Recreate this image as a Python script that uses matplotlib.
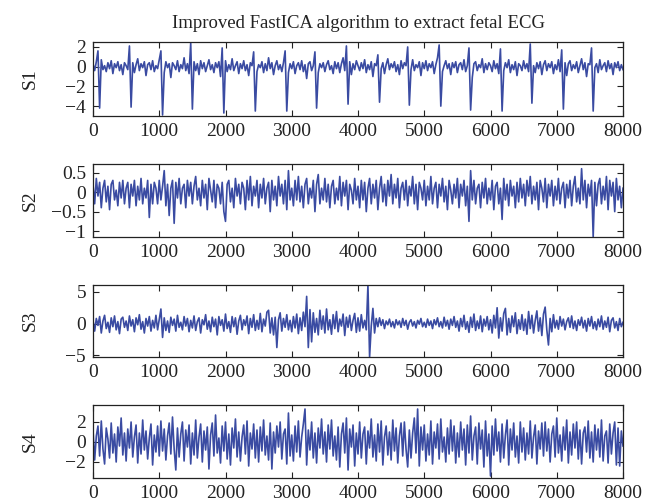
import numpy as np
import matplotlib
matplotlib.use("Agg")
import matplotlib.pyplot as plt

plt.rcParams['font.family'] = ['Liberation Serif', 'DejaVu Serif']

# sample step of the hand-read values (samples)
step = 25
title = 'Improved FastICA algorithm to extract fetal ECG'
names = ['S1', 'S2', 'S3', 'S4']

# S1: baseline noise, spikes added below
s1_base = [
    0.3, -0.4, 0.5, -0.6, 0.2, 0.7, -0.3, 0.1, -0.5, 0.4, -0.2, 0.6, -0.7, 0.3, -0.1, 0.5, -0.4, 0.2, -0.8, 0.4,
    0.1, -0.3, 0.6, -0.2, 0.4, -0.6, 0.2, 0.8, -0.4, 0.3, -0.1, 0.5, -0.9, 0.2, 0.4, -0.3, 0.6, -0.5, 0.1, -0.2,
    0.7, -0.4, 0.2, -0.6, 0.5, -0.1, 0.3, -1.1, 0.4, 0.1, -0.3, 0.6, -0.5, 0.2, -0.2, 0.9, -0.4, 0.3, -0.7, 0.2,
    -0.1, 0.5, -0.4, 0.3, -0.8, 0.6, -0.2, 0.4, -0.5, 0.1, 0.7, -0.3, 0.2, -0.6, 0.4, -0.1, 0.5, -1.0, 0.3, -0.2,
    0.6, -0.5, 0.2, -0.3, 0.8, -0.4, 0.1, 0.5, -0.7, 0.3, -0.2, 0.6, -0.4, 0.2, -0.9, 0.4, 0.1, -0.3, 0.7, -0.5,
    0.2, -0.1, 0.5, -0.6, 0.3, -0.4, 0.9, -0.2, 0.4, -0.8, 0.1, 0.6, -0.3, 0.2, -0.5, 0.4, -0.1, 0.7, -0.6, 0.3,
    -0.2, 0.5, -0.7, 0.1, 0.4, -0.3, 0.6, -0.5, 0.2, -1.2, 0.3, 0.5, -0.4, 0.1, -0.2, 0.8, -0.6, 0.3, -0.1, 0.4,
    -0.5, 0.2, 0.6, -0.3, 0.1, -0.7, 0.5, -0.2, 0.4, -0.6, 0.3, 0.9, -0.4, 0.2, -0.1, 0.5, -0.8, 0.3, -0.3, 0.6,
    0.1, -0.4, 0.4, -0.2, 0.7, -0.6, 0.2, -0.3, 0.5, -1.0, 0.3, 0.1, -0.5, 0.6, -0.2, 0.4, -0.7, 0.2, 0.8, -0.3,
    0.3, -0.1, 0.5, -0.5, 0.2, -0.8, 0.6, -0.2, 0.4, 0.1, -0.6, 0.3, -0.3, 0.7, -0.4, 0.2, -0.1, 0.5, -0.9, 0.4,
    -0.2, 0.6, -0.4, 0.3, -0.1, 0.5, -0.7, 0.2, 0.9, -0.3, 0.4, -0.5, 0.1, 0.6, -0.2, 0.3, -0.8, 0.4, -0.1, 0.5,
    -0.6, 0.2, 0.4, -0.3, 0.7, -0.5, 0.1, -0.2, 0.6, -1.1, 0.3, 0.5, -0.4, 0.2, -0.1, 0.8, -0.6, 0.3, -0.3, 0.4,
    0.1, -0.5, 0.6, -0.2, 0.3, -0.7, 0.5, 0.2, -0.4, 0.4, -0.1, 0.7, -0.6, 0.2, -0.3, 0.5, -0.9, 0.3, 0.1, -0.4,
    0.6, -0.2, 0.3, -0.5, 0.8, -0.3, 0.1, -0.6, 0.4, -0.2, 0.5, -0.8, 0.2, 0.6, -0.4, 0.3, -0.1, 0.5, -0.7, 0.2,
    -0.3, 0.7, -0.5, 0.2, -0.1, 0.4, -0.9, 0.3, 0.6, -0.4, 0.2, -0.2, 0.5, -0.6, 0.1, 0.8, -0.3, 0.4, -1.0, 0.3,
    0.2, -0.4, 0.5, -0.1, 0.3, -0.6, 0.7, -0.3, 0.1, 0.4, -0.5, 0.6, -0.2, 0.3, -0.8, 0.4, -0.1, 0.5, -0.4, 0.2,
    -0.3]

# S1 spikes (sample position, positive tip, negative tip)
spike_pos = [100, 575, 1050, 1500, 1975, 2450, 2925, 3375, 3850, 4325, 4775, 5250, 5700, 6175, 6625, 7100, 7550]
spike_up = [1.6, 2.1, 1.6, 2.4, 1.9, 1.5, 1.6, 1.5, 2.1, 1.2, 2.0, 2.2, 1.9, 1.8, 2.3, 1.7, 1.9]
spike_down = [-4.2, -4.1, -4.9, -4.3, -4.7, -4.5, -4.5, -4.2, -3.8, -3.6, -3.9, -4.0, -4.4, -4.5, -3.7, -4.3, -4.5]

s2 = [
    0.2, -0.3, 0.35, -0.1, 0.25, -0.4, 0.1, 0.3, -0.25, 0.15, -0.45, 0.2, 0.3, -0.2, 0.05, -0.35, 0.25, -0.15, 0.3, -0.3,
    0.1, 0.25, -0.4, 0.2, -0.1, 0.3, -0.35, 0.15, -0.2, 0.35, -0.3, 0.1, -0.15, 0.3, -0.65, 0.2, -0.3, 0.25, 0.1, -0.3,
    0.3, -0.2, 0.15, 0.55, -0.35, 0.2, -0.6, 0.1, 0.3, -0.8, 0.25, -0.15, 0.35, -0.3, 0.1, 0.2, -0.4, 0.3, -0.1, 0.25,
    -0.3, 0.15, 0.4, -0.2, 0.1, -0.35, 0.3, -0.15, 0.2, -0.45, 0.35, 0.05, -0.25, 0.3, -0.4, 0.2, 0.1, -0.3, 0.25, -0.5,
    -0.75, 0.2, 0.3, -0.25, 0.1, -0.4, 0.35, -0.1, 0.2, -0.3, 0.25, 0.1, -0.45, 0.3, -0.2, 0.4, -0.35, 0.15, -0.1, 0.3,
    -0.4, 0.2, -0.15, 0.35, -0.3, 0.1, 0.25, -0.5, 0.3, -0.2, 0.15, -0.35, 0.4, -0.1, 0.2, -0.3, 0.3, -0.45, 0.55, -0.2,
    0.1, -0.35, 0.3, -0.2, 0.4, -0.25, 0.15, -0.4, 0.2, 0.35, -0.3, 0.1, -0.15, 0.3, -0.5, 0.2, 0.45, -0.3, 0.1, -0.2,
    0.35, -0.25, 0.2, -0.4, 0.15, 0.3, -0.3, 0.1, -0.2, 0.4, -0.35, 0.25, -0.1, 0.3, -0.45, 0.2, 0.05, -0.3, 0.35, -0.2,
    0.15, -0.4, 0.3, -0.2, 0.25, -0.5, 0.1, 0.35, -0.3, 0.2, -0.15, 0.3, -0.45, 0.1, 0.4, -0.25, 0.2, -0.35, 0.3, -0.1,
    0.45, -0.3, 0.2, -0.15, 0.35, -0.4, 0.1, 0.25, -0.2, 0.3, -0.35, 0.15, -0.1, 0.4, -0.3, 0.2, -0.45, 0.25, 0.1, -0.2,
    0.3, -0.35, 0.15, -0.2, 0.4, -0.3, 0.1, 0.25, -0.4, 0.2, -0.1, 0.35, -0.25, 0.15, -0.45, 0.3, 0.05, -0.3, 0.2, -0.15,
    0.35, -0.4, 0.2, -0.1, 0.3, -0.35, 0.15, -0.75, 0.55, -0.2, 0.3, -0.3, 0.1, 0.2, -0.4, 0.25, -0.15, 0.35, -0.3, 0.1,
    -0.2, 0.3, -0.45, 0.15, 0.25, -0.3, 0.1, -0.7, 0.35, -0.2, 0.2, -0.35, 0.3, -0.1, 0.15, -0.4, 0.25, -0.25, 0.35, -0.15,
    0.2, -0.35, 0.3, -0.1, 0.4, -0.3, 0.15, -0.2, 0.25, -0.45, 0.3, 0.1, -0.25, 0.35, -0.4, 0.2, -0.1, 0.3, -0.35, 0.15,
    -0.2, 0.35, -0.3, 0.1, 0.25, -0.4, 0.2, -0.15, 0.3, -0.35, 0.15, 0.4, -0.25, 0.1, -0.3, 0.6, -0.2, 0.3, -0.4, 0.2,
    -0.1, 0.3, -1.15, 0.25, -0.35, 0.2, 0.35, -0.3, 0.15, -0.2, 0.4, -0.45, 0.3, -0.1, 0.25, -0.5, 0.35, -0.2, 0.15, -0.4,
    0.1]

s3 = [
    0.5, -1.2, 0.8, -0.3, 1.1, -1.5, 0.4, 1.3, -0.8, 0.2, -1.4, 0.9, -0.5, 1.2, -1.0, 0.3, -1.6, 0.7, 1.0, -0.6,
    0.4, -1.1, 1.2, -0.4, 0.6, -1.3, 0.9, -0.2, 1.4, -0.9, 0.3, -1.5, 0.8, -0.4, 1.1, -1.2, 0.5, -0.7, 1.3, -1.0,
    0.6, 2.3, -2.2, 0.9, -1.1, 0.4, -1.4, 1.0, -0.3, 0.7, -1.2, 1.3, -0.6, 0.2, -1.0, 1.1, -0.4, 0.8, -1.3, 0.5,
    -0.7, 1.2, -1.1, 0.3, 0.9, -1.5, 0.6, -0.2, 1.4, -0.9, 0.4, -1.3, 1.0, -0.5, 0.7, -1.8, 1.1, -0.3, 0.6, -1.2,
    1.5, -0.8, 0.3, -1.4, 1.1, -0.5, 0.9, -1.7, 0.4, 1.3, -1.0, 0.6, -0.3, 1.2, -1.6, 0.8, -0.6, 1.4, -1.1, 0.5,
    -0.9, 1.6, -1.3, 0.7, -0.4, 1.8, 2.1, -1.5, 0.9, -1.8, 1.0, -3.8, 0.6, 1.7, -1.2, 0.8, -0.6, 1.4, -1.0, 0.5,
    -1.3, 1.1, -0.7, 1.5, -1.6, 0.9, -1.1, 1.8, -0.5, 4.3, -3.8, 2.2, -2.9, 1.7, -1.4, 0.8, -1.8, 2.1, -0.9, 1.2,
    -1.5, 2.3, -1.0, 0.6, -1.7, 1.4, -0.8, 1.9, -1.3, 0.7, -0.4, 1.5, -1.9, 1.0, -0.6, 1.3, -1.1, 0.5, 1.6, -1.4,
    0.9, -1.2, 1.4, -0.7, 0.5, -1.0, 6.1, -5.3, -0.4, 2.4, -1.5, 0.8, -0.5, 0.9, -0.3, 0.6, -0.8, 0.4, -0.2, 0.7,
    -0.5, 0.3, -0.7, 0.6, -0.2, 0.4, -0.6, 0.8, -0.3, 0.5, -0.9, 0.2, 0.6, -0.4, 0.3, -0.7, 0.5, -0.1, 0.8, -0.5,
    0.2, -0.6, 0.7, -0.3, 0.4, -0.8, 0.6, -0.2, 0.9, -0.5, 0.3, -0.7, 1.0, -0.4, 0.5, -0.9, 0.7, -0.3, 1.1, -0.6,
    0.4, -1.2, 0.8, -0.5, 1.3, -0.9, 0.3, -1.4, 1.0, -0.6, 1.5, -1.1, 0.4, -0.8, 1.2, -1.3, 0.7, -0.4, 1.1, -1.0,
    0.6, -1.5, 1.3, -0.7, 2.5, -2.3, 0.9, -1.2, 1.6, 2.4, -1.8, 0.8, -1.4, 1.2, -0.5, 1.7, -1.6, 0.6, -0.9, 1.4,
    -1.1, 0.7, -1.7, 1.9, -0.8, 1.3, -1.5, 0.5, 2.0, -1.2, 0.9, -1.9, 1.5, 2.6, -1.0, -3.4, 0.8, -1.3, 1.4, -0.7,
    0.5, -0.9, 1.1, -0.4, 0.7, -1.0, 0.3, 0.9, -0.6, 1.2, -0.8, 0.4, -1.1, 0.6, -0.3, 1.0, -0.7, 0.5, -1.2, 0.8,
    -0.4, 1.1, -0.8, 0.3, -1.0, 0.7, -0.5, 1.2, -0.9, 0.4, -0.6, 1.0, -1.3, 0.5, 0.9, -0.7, 0.3, -1.1, 0.8, -0.5,
    0.2]

s4 = [
    1.2, -1.8, 0.6, 1.6, -1.4, 2.1, -0.7, -2.2, 1.4, 0.3, -1.6, 1.9, -1.1, 0.8, -2.0, 1.5, -0.4, 2.4, -1.3, 0.9,
    -1.9, 1.3, -0.6, 2.0, -1.5, 0.5, 1.7, -2.1, 0.9, -1.2, 2.2, -0.8, 1.1, -1.7, 0.4, 1.8, -2.3, 0.7, -1.0, 1.6,
    -1.4, 2.1, -0.9, 1.3, -1.8, 0.6, 1.9, -1.2, 2.5, -0.7, -2.8, 1.4, -1.5, 0.8, 2.0, -1.9, 1.2, -0.5, 1.7, -2.2,
    0.9, -1.3, 2.2, -1.6, 0.5, 1.8, -2.0, 1.1, -0.8, 1.5, -2.7, 0.7, 1.9, -1.4, 2.7, -1.1, 0.4, -2.1, 1.6, -0.9,
    2.0, -1.7, 0.8, -2.3, 1.4, -0.6, 2.3, -1.5, 1.0, -1.9, 0.5, 1.7, -1.2, 2.1, -2.4, 0.9, -0.7, 1.8, -1.6, 1.2,
    -2.0, 1.5, -0.9, 2.2, -1.3, 0.6, -1.8, 1.9, -2.7, 1.0, -1.1, 1.6, -0.5, 2.0, -1.7, 0.8, 1.3, -2.2, 2.9, -1.4,
    0.7, -1.9, 1.6, -1.0, 2.1, -1.5, 0.5, 1.8, 3.3, -2.3, 1.2, -0.8, 2.0, -1.6, 0.9, -2.1, 1.4, -0.6, 2.3, -1.2,
    1.0, -2.0, 1.7, -0.7, 2.2, -1.4, 0.6, -1.8, 1.5, -2.5, 0.8, 1.9, -1.1, 2.4, -2.8, 1.3, -0.5, 1.7, -2.4, 0.9,
    -1.2, 2.0, -1.6, 0.8, 1.5, -2.2, 1.1, -0.6, 2.3, -1.5, 0.7, -1.9, 1.8, -1.0, 2.1, -2.3, 0.5, 1.6, -1.3, 1.0,
    -1.8, 2.2, -0.9, 1.4, -2.1, 0.6, 1.9, -1.4, 2.0, -0.7, -2.5, 1.2, -1.6, 0.9, 2.4, -1.1, 3.3, -2.4, 1.5, -0.8,
    1.7, -1.9, 0.8, -1.3, 2.1, -2.2, 1.0, -0.6, 1.8, -1.7, 2.3, -1.0, 0.5, -2.0, 1.4, -1.2, 2.2, -0.9, 1.6, -2.1,
    0.9, -1.5, 2.0, -0.8, 1.3, -2.3, 1.7, -1.1, 2.6, -1.8, 0.6, 1.5, -2.2, 1.9, -0.7, 1.2, -2.5, 2.1, -1.4, 0.8,
    -3.4, 1.6, -1.3, 2.3, -0.9, 1.0, -2.0, 1.8, -1.6, 0.7, 2.2, -2.3, 1.3, -0.8, 1.9, -1.5, 0.6, -2.1, 2.0, -1.0,
    1.4, -1.8, 0.9, -1.2, 2.1, -1.6, 0.5, 1.7, -2.2, 1.1, -0.7, 1.9, -1.4, 2.0, -0.9, 1.3, -2.0, 0.8, 1.6, -1.5,
    2.4, -1.1, 0.7, -1.9, 1.5, -0.8, 2.2, -2.1, 1.0, -1.3, 1.8, -0.6, 2.0, -1.7, 1.2, -2.2, 0.9, 1.5, -1.0, 2.1,
    -1.6, 1.0, -2.0, 1.7, -0.8, 1.3, -1.5, 2.2, -1.9, 0.6, 1.1, -2.1, 1.8, -1.2, 0.9, 2.0, -2.3, 1.4, -2.4, 1.1,
    -0.4]

ylims = [(-5.0, 2.5), (-1.15, 0.72), (-5.3, 6.1), (-3.6, 3.7)]
yticks = [[-4, -2, 0, 2], [-1, -0.5, 0, 0.5], [-5, 0, 5], [-2, 0, 2]]
ytick_labels = [['\u22124', '\u22122', '0', '2'],
                ['\u22121', '\u22120.5', '0', '0.5'],
                ['\u22125', '0', '5'],
                ['\u22122', '0', '2']]
xticks = [0, 1000, 2000, 3000, 4000, 5000, 6000, 7000, 8000]

# put the S1 spikes into the baseline
s1 = list(s1_base)
for p, up, dn in zip(spike_pos, spike_up, spike_down):
    i = p // step
    s1[i - 1] = up
    s1[i] = dn

signals = [s1, s2, s3, s4]
color = '#3a4ba2'

W, H = 668, 504
fig = plt.figure(figsize=(W / 100, H / 100), dpi=100)
# axes boxes in pixels: left, top, right, bottom
boxes = [(93, 42, 623, 116), (93, 164, 623, 237), (93, 285, 623, 357), (93, 405, 623, 478)]

for k in range(4):
    l, t, r, b = boxes[k]
    ax = fig.add_axes([l / W, 1 - b / H, (r - l) / W, (b - t) / H])
    y = np.array(signals[k])
    x = np.arange(len(y)) * step
    ax.plot(x, y, color=color, lw=1.2)
    ax.set_xlim(0, 8000)
    ax.set_ylim(*ylims[k])
    ax.set_xticks(xticks)
    ax.set_xticklabels([str(v) for v in xticks])
    ax.set_yticks(yticks[k])
    ax.set_yticklabels(ytick_labels[k])
    ax.tick_params(direction='in', top=True, right=True, length=4, width=0.8,
                   labelsize=14, colors='#222222', pad=5)
    for s in ax.spines.values():
        s.set_linewidth(0.9)
        s.set_color('#222222')
    ax.set_ylabel(names[k], fontsize=14, color='#222222')
    ax.yaxis.set_label_coords(-0.102, 0.5)
    if k == 0:
        ax.set_title(title, fontsize=13.5, color='#222222', pad=10)

fig.savefig('out.png', dpi=100)
